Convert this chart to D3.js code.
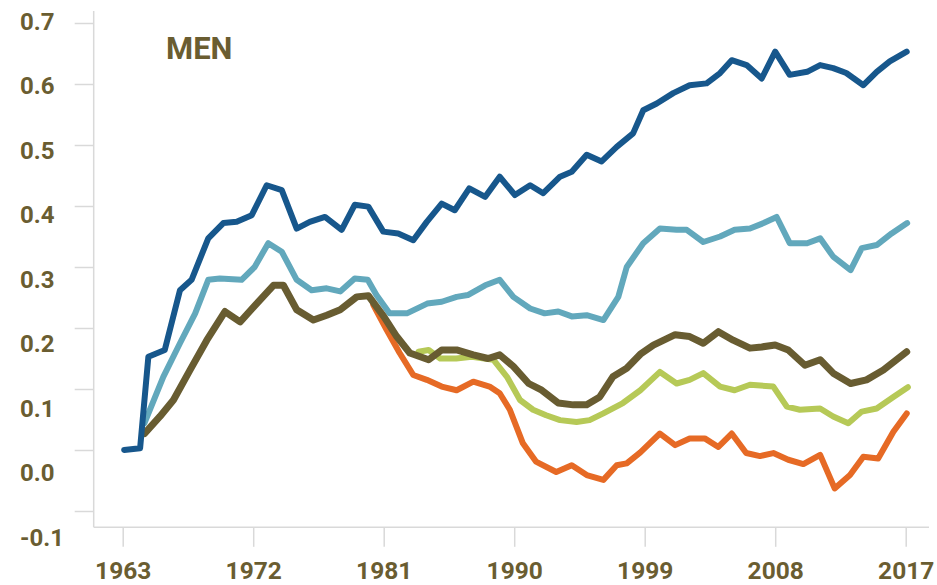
<!DOCTYPE html>
<html>
<head>
<meta charset="utf-8">
<script src="https://cdn.jsdelivr.net/npm/d3@7"></script>
<style>
  html, body { margin: 0; padding: 0; background: #ffffff; }
  svg { display: block; }
</style>
</head>
<body>
<svg id="chart" width="937" height="585"></svg>
<script>
// ---- DATA ----
const xTickYears = [1963, 1972, 1981, 1990, 1999, 2008, 2017];
const yTickValues = [0.7, 0.6, 0.5, 0.4, 0.3, 0.2, 0.1, 0.0, -0.1];
const yTickLabels = ["0.7", "0.6", "0.5", "0.4", "0.3", "0.2", "0.1", "0.0", "-0.1"];
const panelTitle = "MEN";

const darkBlueYears = [1963.1, 1964.2, 1964.77, 1965.9, 1966.95, 1967.75, 1968.9, 1969.94, 1970.86, 1971.9, 1972.93, 1973.97, 1975.0, 1975.9, 1976.95, 1978.1, 1979.0, 1979.94, 1980.97, 1982.0, 1983.04, 1983.97, 1985.0, 1985.9, 1986.9, 1988.0, 1989.0, 1990.05, 1991.1, 1992.0, 1993.16, 1993.97, 1995.0, 1996.03, 1997.07, 1998.2, 1998.9, 1999.83, 2000.97, 2002.1, 2003.27, 2004.2, 2005.0, 2006.03, 2007.07, 2008.0, 2009.0, 2010.2, 2011.1, 2012.0, 2012.9, 2014.08, 2015.0, 2015.9, 2017.07];
const darkBlueValues = [0.0, 0.003, 0.153, 0.164, 0.262, 0.279, 0.347, 0.372, 0.374, 0.385, 0.434, 0.426, 0.363, 0.374, 0.382, 0.361, 0.402, 0.399, 0.358, 0.355, 0.344, 0.374, 0.404, 0.393, 0.429, 0.415, 0.448, 0.418, 0.434, 0.421, 0.448, 0.456, 0.484, 0.473, 0.497, 0.519, 0.557, 0.568, 0.585, 0.598, 0.601, 0.618, 0.639, 0.631, 0.609, 0.653, 0.615, 0.620, 0.631, 0.626, 0.618, 0.598, 0.620, 0.637, 0.653];

const lightBlueYears = [1964.5, 1965.8, 1966.95, 1968.0, 1968.9, 1969.7, 1971.2, 1972.1, 1973.04, 1973.97, 1975.0, 1976.03, 1977.07, 1978.0, 1979.0, 1979.9, 1980.5, 1981.4, 1982.6, 1984.0, 1985.0, 1986.03, 1986.8, 1988.0, 1989.0, 1989.94, 1991.1, 1992.1, 1993.04, 1993.97, 1995.0, 1996.15, 1997.18, 1997.76, 1998.9, 2000.05, 2001.2, 2001.9, 2003.04, 2004.2, 2005.2, 2006.26, 2007.2, 2008.1, 2009.0, 2010.2, 2011.1, 2012.0, 2013.2, 2013.97, 2015.0, 2016.03, 2017.1];
const lightBlueValues = [0.044, 0.120, 0.175, 0.224, 0.279, 0.281, 0.279, 0.300, 0.339, 0.325, 0.279, 0.262, 0.265, 0.260, 0.281, 0.279, 0.254, 0.224, 0.224, 0.240, 0.243, 0.251, 0.254, 0.270, 0.279, 0.251, 0.232, 0.224, 0.227, 0.219, 0.221, 0.213, 0.251, 0.300, 0.339, 0.363, 0.361, 0.361, 0.341, 0.350, 0.361, 0.363, 0.372, 0.382, 0.339, 0.339, 0.347, 0.317, 0.295, 0.331, 0.336, 0.355, 0.372];

const oliveYears = [1964.5, 1965.57, 1966.5, 1967.64, 1968.8, 1970.05, 1971.1, 1972.24, 1973.4, 1974.08, 1975.0, 1976.15, 1977.07, 1978.0, 1979.14, 1979.94, 1981.0, 1981.9, 1982.8, 1984.1, 1985.0, 1986.03, 1987.18, 1988.2, 1989.0, 1989.94, 1991.0, 1991.9, 1993.04, 1994.08, 1995.0, 1995.9, 1996.8, 1997.76, 1998.7, 1999.6, 2001.1, 2002.1, 2003.04, 2004.08, 2005.1, 2006.26, 2007.07, 2008.0, 2008.9, 2010.05, 2011.1, 2012.0, 2013.2, 2014.3, 2015.46, 2017.07];
const oliveValues = [0.027, 0.055, 0.082, 0.131, 0.180, 0.227, 0.210, 0.240, 0.270, 0.270, 0.230, 0.213, 0.221, 0.230, 0.251, 0.253, 0.219, 0.186, 0.159, 0.148, 0.164, 0.164, 0.156, 0.150, 0.156, 0.137, 0.109, 0.098, 0.077, 0.074, 0.074, 0.087, 0.120, 0.134, 0.157, 0.172, 0.189, 0.186, 0.175, 0.194, 0.180, 0.167, 0.169, 0.172, 0.164, 0.139, 0.148, 0.126, 0.109, 0.115, 0.131, 0.161];

const greenYears = [1983.4, 1984.1, 1984.9, 1986.0, 1987.07, 1988.56, 1989.5, 1990.4, 1991.3, 1992.2, 1993.16, 1994.3, 1995.2, 1996.15, 1997.5, 1998.7, 2000.05, 2001.2, 2002.1, 2003.04, 2004.2, 2005.2, 2006.26, 2007.87, 2008.8, 2009.7, 2011.1, 2012.0, 2013.04, 2013.97, 2015.0, 2016.15, 2017.15];
const greenValues = [0.161, 0.164, 0.150, 0.150, 0.153, 0.148, 0.120, 0.082, 0.066, 0.057, 0.049, 0.046, 0.049, 0.060, 0.077, 0.098, 0.128, 0.109, 0.115, 0.126, 0.104, 0.098, 0.107, 0.104, 0.071, 0.066, 0.068, 0.055, 0.044, 0.063, 0.068, 0.087, 0.103];

const orangeYears = [1980.28, 1981.2, 1982.1, 1983.04, 1983.97, 1985.0, 1986.03, 1987.18, 1988.3, 1989.0, 1989.7, 1990.6, 1991.5, 1992.9, 1993.97, 1995.0, 1996.15, 1997.07, 1997.76, 1998.7, 2000.05, 2001.1, 2002.1, 2003.14, 2004.08, 2005.0, 2006.0, 2006.95, 2007.87, 2008.9, 2009.94, 2011.1, 2012.1, 2013.16, 2014.08, 2015.1, 2016.15, 2017.07];
const orangeValues = [0.238, 0.197, 0.159, 0.123, 0.115, 0.104, 0.098, 0.112, 0.104, 0.093, 0.066, 0.011, -0.019, -0.036, -0.025, -0.041, -0.049, -0.025, -0.022, -0.004, 0.027, 0.008, 0.019, 0.019, 0.005, 0.027, -0.005, -0.010, -0.005, -0.016, -0.023, -0.008, -0.063, -0.041, -0.011, -0.014, 0.030, 0.060];

// ---- CHART ----
const svg = d3.select("#chart");
const textColor = "#6a5d31";
const axisColor = "#d9d9d9";

const x = d3.scaleLinear().domain([1963, 2017]).range([122.7, 905.7]);
const y = d3.scaleLinear().domain([-0.1, 0.7]).range([511, 23]);
// label placement (labels sit slightly offset from their ticks in the original)
const yLabel = d3.scaleLinear().domain([-0.1, 0.7]).range([537, 21]);

const plotLeft = 93.7, plotRight = 929, plotBottom = 527.3, plotTop = 11;

// axis lines
svg.append("line").attr("x1", plotLeft).attr("x2", plotLeft).attr("y1", plotTop).attr("y2", plotBottom)
  .attr("stroke", axisColor).attr("stroke-width", 1.5);
svg.append("line").attr("x1", plotLeft).attr("x2", plotRight).attr("y1", plotBottom).attr("y2", plotBottom)
  .attr("stroke", axisColor).attr("stroke-width", 1.5);

// y axis ticks via d3 axis
const yAxis = d3.axisLeft(y).tickValues(yTickValues).tickSize(19).tickFormat("");
const gy = svg.append("g").attr("transform", `translate(${plotLeft},0)`).call(yAxis);
gy.select(".domain").remove();
gy.selectAll(".tick line").attr("stroke", axisColor).attr("stroke-width", 1.5);

svg.append("g").selectAll("text").data(yTickValues).join("text")
  .attr("x", 20).attr("y", d => yLabel(d)).attr("dy", "0.36em")
  .attr("fill", textColor).attr("font-family", "Roboto, sans-serif")
  .attr("font-weight", "bold").attr("font-size", 24)
  .text((d, i) => yTickLabels[i]);

// x axis
const xAxis = d3.axisBottom(x).tickValues(xTickYears).tickSize(19.5).tickFormat(d3.format("d")).tickPadding(15);
const gx = svg.append("g").attr("transform", `translate(0,${plotBottom})`).call(xAxis);
gx.select(".domain").remove();
gx.selectAll(".tick line").attr("stroke", axisColor).attr("stroke-width", 1.5);
gx.selectAll(".tick text").attr("fill", textColor).attr("font-family", "Roboto, sans-serif")
  .attr("font-weight", "bold").attr("font-size", 24.5);

// title
svg.append("text").attr("x", 166).attr("y", 59.3)
  .attr("fill", textColor).attr("font-family", "Roboto, sans-serif")
  .attr("font-weight", "bold").attr("font-size", 31).text(panelTitle);

// lines
const line = d3.line().x(d => x(d[0])).y(d => y(d[1]));
const series = [
  { years: lightBlueYears, values: lightBlueValues, color: "#62a8bc", width: 6 },
  { years: oliveYears, values: oliveValues, color: "#685c31", width: 7 },
  { years: greenYears, values: greenValues, color: "#b6c957", width: 6 },
  { years: orangeYears, values: orangeValues, color: "#e66a25", width: 6 },
  { years: darkBlueYears, values: darkBlueValues, color: "#17578c", width: 6 }
];
// draw order: green and orange below olive
const order = [2, 3, 0, 1, 4];
order.forEach(i => {
  const s = series[i];
  const pts = s.years.map((yr, k) => [yr, s.values[k]]);
  svg.append("path").datum(pts).attr("d", line)
    .attr("fill", "none").attr("stroke", s.color).attr("stroke-width", s.width)
    .attr("stroke-linejoin", "round").attr("stroke-linecap", "round");
});
</script>
</body>
</html>
